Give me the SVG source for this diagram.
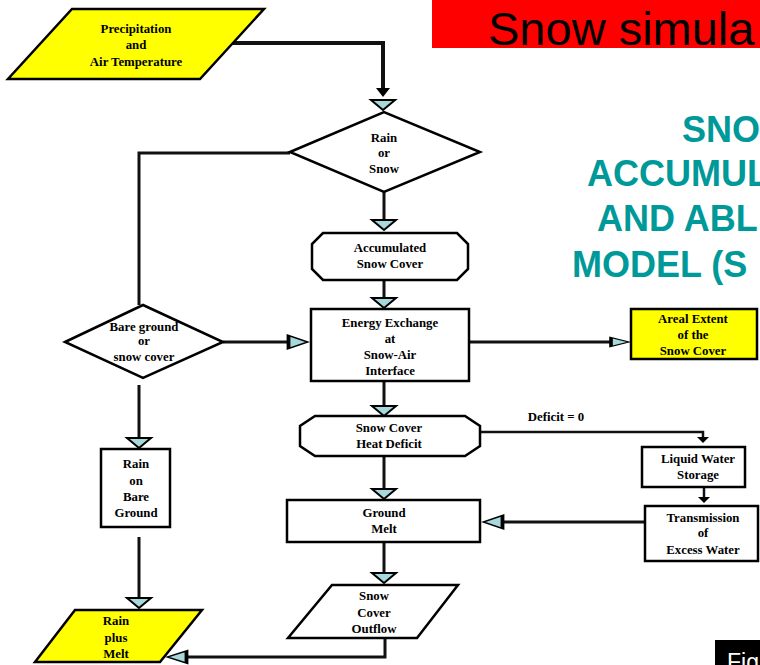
<svg xmlns="http://www.w3.org/2000/svg" width="760" height="665" viewBox="0 0 760 665">
<style>
.node{stroke:#000;stroke-width:2.5;fill:#fff}
.yel{fill:#ffff00}
.t{font-family:"Liberation Serif","Times New Roman",serif;font-weight:bold;font-size:12.8px;text-anchor:middle;fill:#000}
.c{fill:none;stroke:#111;stroke-width:3}
.tri{fill:#a6d8dc;stroke:#000;stroke-width:2;stroke-linejoin:miter}
.blk{fill:#000}
.teal{font-family:"Liberation Sans",Arial,sans-serif;font-weight:bold;font-size:36px;fill:#009999}
</style>
<defs>
<path id="tdown" d="M-12,-5 L12,-5 L0,5 Z"/>
</defs>
<rect x="432" y="0" width="330" height="48" fill="#ff0000"/>
<text x="488" y="45" font-family="Liberation Sans,Arial,sans-serif" font-size="47" fill="#000">Snow simula</text>
<text class="teal" x="682" y="142">SNO</text>
<text class="teal" x="587" y="186">ACCUMUL</text>
<text class="teal" x="597" y="231">AND ABL</text>
<text class="teal" x="572" y="277">MODEL (S</text>
<rect x="715" y="640" width="50" height="30" fill="#000"/>
<text x="727" y="670" font-family="Liberation Sans,Arial,sans-serif" font-size="23" fill="#fff">Fig</text>

<g id="connectors">
<polyline class="c" style="stroke-width:4" points="233,43 383,43 383,90"/>
<polygon class="blk" points="376,88 390,88 383,97"/>
<polyline class="c" points="290,153 139,153 139,305"/>
<line class="c" x1="384" y1="192" x2="384" y2="220"/>
<line class="c" x1="384" y1="280" x2="384" y2="298"/>
<line class="c" x1="384" y1="381" x2="384" y2="406"/>
<line class="c" x1="384" y1="456" x2="384" y2="488"/>
<line class="c" x1="384" y1="542" x2="384" y2="573"/>
<polyline class="c" points="385,638 385,657 187,657"/>
<line class="c" x1="223" y1="342" x2="287" y2="342"/>
<line class="c" x1="469" y1="342" x2="610" y2="342"/>
<polyline class="c" style="stroke-width:2.5" points="480,432 703,432 703,438"/>
<polygon class="blk" points="697,437 709,437 703,443"/>
<line class="c" style="stroke-width:2.5" x1="704" y1="487" x2="704" y2="498"/>
<polygon class="blk" points="698,497 710,497 704,503"/>
<line class="c" x1="645" y1="522" x2="503" y2="522"/>
<line class="c" x1="139" y1="385" x2="139" y2="437"/>
<line class="c" x1="139" y1="537" x2="139" y2="597"/>
<use href="#tdown" class="tri" transform="translate(383,105)"/>
<use href="#tdown" class="tri" transform="translate(384,225)"/>
<use href="#tdown" class="tri" transform="translate(384,303)"/>
<use href="#tdown" class="tri" transform="translate(384,411)"/>
<use href="#tdown" class="tri" transform="translate(384,494)"/>
<use href="#tdown" class="tri" transform="translate(384,578)"/>
<use href="#tdown" class="tri" transform="translate(139,443)"/>
<use href="#tdown" class="tri" transform="translate(139,603)"/>
<use href="#tdown" class="tri" transform="translate(298,342) rotate(-90) scale(0.55,1.9)"/>
<use href="#tdown" class="tri" transform="translate(620,342) rotate(-90) scale(0.38,1.8)"/>
<use href="#tdown" class="tri" transform="translate(493,522) rotate(90) scale(0.55,1.9)"/>
<use href="#tdown" class="tri" transform="translate(177,657) rotate(90) scale(0.5,1.9)"/>
</g>

<g id="precip">
<polygon class="node yel" points="72,9 264,9 200,79 8,79"/>
<text class="t" x="136" y="33">Precipitation</text>
<text class="t" x="136" y="49">and</text>
<text class="t" x="136" y="66">Air Temperature</text>
</g>
<g id="rain-or-snow">
<polygon class="node" points="290,152 384,112 480,152 384,192"/>
<text class="t" x="384" y="142">Rain</text>
<text class="t" x="384" y="157">or</text>
<text class="t" x="384" y="173">Snow</text>
</g>
<g id="accumulated">
<polygon class="node" points="323,233 457,233 468,244 468,269 457,280 323,280 312,269 312,244"/>
<text class="t" x="390" y="252">Accumulated</text>
<text class="t" x="390" y="268">Snow Cover</text>
</g>
<g id="energy">
<rect class="node" x="311" y="309" width="158" height="72"/>
<text class="t" x="390" y="327">Energy Exchange</text>
<text class="t" x="390" y="343">at</text>
<text class="t" x="390" y="359">Snow-Air</text>
<text class="t" x="390" y="375">Interface</text>
</g>
<g id="bare-ground">
<polygon class="node" points="65,342 143,305 223,342 143,378"/>
<text class="t" x="144" y="331">Bare ground</text>
<text class="t" x="144" y="345">or</text>
<text class="t" x="144" y="361">snow cover</text>
</g>
<g id="areal">
<rect class="node yel" x="631" y="309" width="126" height="50"/>
<text class="t" x="693" y="323">Areal Extent</text>
<text class="t" x="693" y="339">of the</text>
<text class="t" x="693" y="355">Snow Cover</text>
</g>
<text class="t" x="556" y="421">Deficit = 0</text>
<g id="heat-deficit">
<polygon class="node" points="315,416 465,416 480,426 480,446 465,456 315,456 300,446 300,426"/>
<text class="t" x="389" y="432">Snow Cover</text>
<text class="t" x="389" y="448">Heat Deficit</text>
</g>
<g id="liquid-water">
<rect class="node" x="642" y="447" width="103" height="40"/>
<text class="t" x="698" y="463">Liquid Water</text>
<text class="t" x="698" y="479">Storage</text>
</g>
<g id="transmission">
<rect class="node" x="645" y="506" width="113" height="55"/>
<text class="t" x="703" y="522">Transmission</text>
<text class="t" x="703" y="537">of</text>
<text class="t" x="703" y="554">Excess Water</text>
</g>
<g id="ground-melt">
<rect class="node" x="287" y="500" width="193" height="42"/>
<text class="t" x="384" y="517">Ground</text>
<text class="t" x="384" y="533">Melt</text>
</g>
<g id="rain-bare">
<rect class="node" x="101" y="449" width="69" height="78"/>
<text class="t" x="136" y="468">Rain</text>
<text class="t" x="136" y="485">on</text>
<text class="t" x="136" y="501">Bare</text>
<text class="t" x="136" y="517">Ground</text>
</g>
<g id="outflow">
<polygon class="node" points="332,585 458,585 417,638 288,638"/>
<text class="t" x="374" y="600">Snow</text>
<text class="t" x="374" y="617">Cover</text>
<text class="t" x="374" y="633">Outflow</text>
</g>
<g id="rain-melt">
<polygon class="node yel" points="75,610 202,610 160,662 35,662"/>
<text class="t" x="116" y="625">Rain</text>
<text class="t" x="116" y="642">plus</text>
<text class="t" x="116" y="658">Melt</text>
</g>
</svg>
